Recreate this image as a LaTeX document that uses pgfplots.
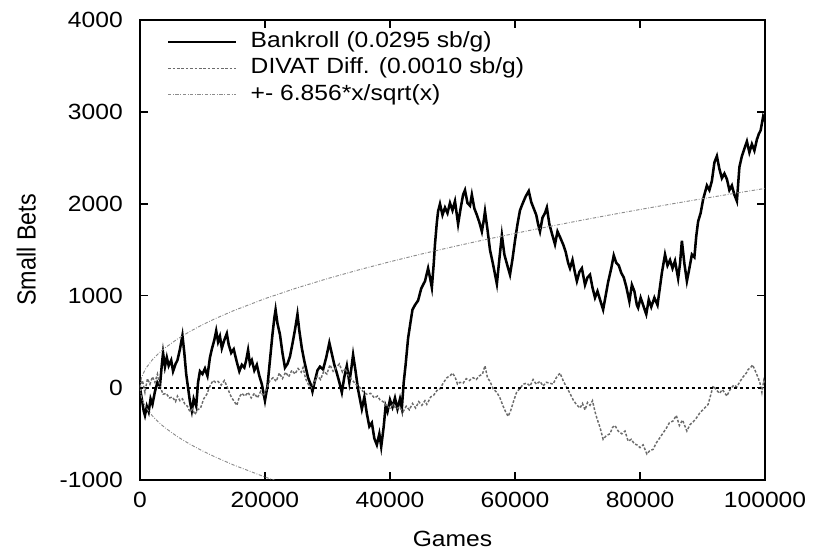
\documentclass[border=0pt]{standalone}
\usepackage{fontspec}
\setmainfont{Liberation Sans}
\usepackage{graphicx}
\usepackage{pgfplots}
\pgfplotsset{compat=1.18}

\pgfplotstableread{
x y
0 0
300 -120
600 -250
800 -300
1100 -200
1400 -260
1700 -120
2000 -180
2400 -40
2800 60
3200 20
3500 250
3700 380
4000 230
4300 330
4600 240
5000 300
5300 180
5700 260
6000 300
6400 420
6800 570
7100 380
7400 150
7700 0
8000 -150
8300 -250
8600 -120
9000 -200
9300 60
9600 180
10000 150
10400 210
10800 130
11200 330
11500 420
11900 520
12200 620
12500 500
12800 560
13100 430
13500 520
13900 590
14200 470
14600 380
15000 420
15500 280
15900 180
16300 250
16700 220
17000 300
17300 410
17600 260
17900 300
18300 190
18700 250
19100 130
19500 40
20000 -140
20400 20
20800 300
21200 580
21500 760
21700 850
22000 700
22400 580
22800 380
23200 220
23600 260
24000 340
24400 480
24800 630
25200 800
25500 620
25900 430
26300 290
26900 110
27300 40
27600 -40
28000 80
28400 190
28800 230
29300 200
29800 330
30300 490
30700 370
31100 250
31500 160
31900 60
32300 -50
32700 120
33100 240
33500 60
33800 200
34100 360
34500 180
34900 -20
35500 -230
35900 -100
36300 -280
36700 -420
37100 -380
37500 -550
37900 -620
38300 -500
38600 -640
39000 -420
39300 -200
39600 -260
40000 -130
40400 -210
40800 -110
41200 -230
41600 -120
41900 -220
42200 60
42500 250
42900 540
43300 720
43600 850
44000 900
44500 950
45000 1080
45600 1160
46100 1300
46400 1200
46700 1090
47000 1350
47200 1560
47500 1800
47700 1920
48000 2000
48400 1880
48800 1960
49200 1900
49600 2010
50000 1930
50400 2030
50900 1780
51300 1950
51700 2100
52000 2150
52400 2010
52800 1980
53100 2100
53500 1950
53900 1880
54300 1800
54700 1700
55000 1820
55200 1920
55600 1720
56000 1500
56500 1340
57100 1130
57500 1400
57900 1660
58300 1450
58700 1350
59200 1230
59600 1400
60000 1600
60400 1780
60800 1930
61200 2000
61700 2080
62200 2140
62600 2020
63000 1950
63400 1880
63700 1780
64000 1700
64400 1850
64800 1900
65100 1960
65500 1780
65900 1680
66400 1560
66800 1700
67200 1640
67700 1560
68100 1480
68500 1360
68800 1300
69200 1390
69600 1250
69900 1160
70300 1260
70700 1300
71200 1120
71600 1200
72000 1230
72400 1090
72800 980
73200 1050
73600 960
74100 850
74500 1000
74900 1150
75400 1300
75800 1440
76200 1360
76600 1330
77000 1250
77400 1200
77800 1100
78300 940
78700 1120
79100 1050
79500 900
79700 870
80100 980
80500 900
81000 800
81400 960
81800 880
82300 980
82800 900
83100 1050
83500 1250
84000 1450
84400 1330
84800 1390
85200 1300
85600 1380
86100 1190
86400 1350
86700 1600
87100 1350
87500 1160
87900 1300
88300 1450
88700 1420
89000 1650
89300 1810
89700 1900
90100 2050
90500 2150
90700 2200
91100 2150
91500 2250
91900 2450
92300 2520
92700 2380
93100 2280
93500 2330
93900 2270
94300 2150
94700 2200
95100 2100
95500 2030
95900 2400
96300 2520
96700 2600
97100 2680
97500 2560
97900 2650
98300 2580
98700 2700
99000 2760
99300 2800
99700 2950
100000 2900
}\bankroll

\pgfplotstableread{
x y
0 0
400 80
800 -50
1200 100
1600 40
2000 120
2400 60
2800 150
3200 20
3700 -70
4200 -60
4700 -110
5200 -100
5700 -150
6000 -90
6400 -140
6800 -120
7200 -180
7600 -200
8000 -260
8400 -230
8800 -290
9200 -240
9700 -220
10200 -120
10700 -70
11200 20
11700 80
12100 60
12500 70
13000 30
13500 80
13900 20
14400 -70
14800 -120
15200 -160
15500 -190
15900 -100
16300 -60
16800 -90
17300 -50
17800 -110
18300 -60
18800 -110
19300 -40
19800 -90
20300 0
20800 80
21300 110
21800 70
22300 160
22800 100
23300 170
23800 120
24300 190
24800 150
25300 210
25800 170
26100 220
26500 100
27000 30
27400 0
27900 60
28400 130
28900 90
29400 180
29900 150
30400 250
30900 180
31400 220
31900 260
32400 170
32900 210
33400 120
33900 90
34500 40
35100 10
35700 -40
36300 -70
36900 -60
37500 -110
38000 -90
38400 -130
38900 -150
39400 -190
40000 -220
40500 -180
41000 -230
41500 -210
42100 -260
42600 -200
43100 -240
43600 -170
44100 -220
44600 -150
45100 -190
45600 -140
45900 -180
46500 -100
47000 -80
47500 -30
48000 -10
48500 50
49100 110
49600 130
50000 160
50400 120
50800 40
51200 60
51700 50
52200 100
52700 80
53300 110
53800 90
54300 130
54800 150
55200 240
55600 110
56000 70
56500 -10
57100 -50
57600 -110
58100 -200
58500 -260
58900 -310
59300 -250
59800 -140
60300 -40
60800 -10
61300 40
61900 50
62400 20
62900 90
63400 40
64000 70
64500 20
65000 60
65600 50
66100 40
66600 110
67200 160
67700 80
68300 0
68800 -60
69300 -130
69800 -180
70400 -220
70800 -170
71200 -240
71600 -160
72000 -190
72400 -140
72800 -260
73100 -330
73600 -430
74100 -560
74600 -520
75200 -500
75600 -430
76000 -410
76500 -470
77100 -500
77600 -470
78100 -580
78600 -560
79100 -610
79500 -620
80000 -650
80500 -620
81100 -720
81600 -680
82100 -670
82600 -600
83200 -540
83700 -490
84200 -440
84700 -380
85300 -360
85800 -300
86300 -410
86800 -350
87500 -470
88000 -400
88500 -370
89000 -330
89600 -270
90200 -230
90900 -180
91300 -80
91700 20
92200 -20
92700 -60
93200 -20
93900 -90
94400 -20
95000 30
95500 10
96000 70
96500 120
97000 160
97300 200
97700 220
98000 250
98400 190
98900 110
99200 50
99500 -50
99800 80
100000 40
}\divat

\pgfplotstableread{
x up lo
0 0 0
250 108.4 -108.4
500 153.3 -153.3
1000 216.8 -216.8
2000 306.6 -306.6
3000 375.5 -375.5
4000 433.6 -433.6
6000 531.1 -531.1
8000 613.2 -613.2
10000 685.6 -685.6
12000 751.0 -751.0
15000 839.7 -839.7
20000 969.6 -969.6
25000 1084.0 -1084.0
30000 1187.5 -1187.5
35000 1282.6 -1282.6
40000 1371.2 -1371.2
45000 1454.4 -1454.4
50000 1533.0 -1533.0
55000 1607.9 -1607.9
60000 1679.4 -1679.4
65000 1747.9 -1747.9
70000 1813.9 -1813.9
75000 1877.6 -1877.6
80000 1939.2 -1939.2
85000 1998.8 -1998.8
90000 2056.8 -2056.8
95000 2113.2 -2113.2
100000 2168.1 -2168.1
}\bound

\newcommand{\wide}[1]{\scalebox{1.12}[1]{#1}}

\begin{document}
\begin{tikzpicture}
\begin{axis}[
    name=ax,
    width=469pt, height=345pt,
    scale only axis,
    xmin=0, xmax=100000,
    ymin=-1000, ymax=4000,
    xtick={0,20000,40000,60000,80000,100000},
    xticklabels={0,20000,40000,60000,80000,100000},
    ytick={-1000,0,1000,2000,3000,4000},
    yticklabels={-1000,0,1000,2000,3000,4000},
    scaled x ticks=false,
    tick align=inside,
    major tick length=6pt,
    tick style={black, line width=0.9pt},
    axis line style={line width=1.2pt},
    ticklabel style={font=\fontsize{16.5}{18}\selectfont, xscale=1.12},
    xticklabel style={yshift=-6pt},
    yticklabel style={xshift=-8pt},
    xlabel={Games},
    ylabel={\fontsize{17.5}{20}\selectfont\scalebox{1}[1.12]{Small Bets}},
    xlabel style={font=\fontsize{16.5}{18}\selectfont, xscale=1.12,
        at={(axis description cs:0.5,-0.129)}, anchor=center},
    ylabel style={at={(axis description cs:-0.182,0.5)}, anchor=center},
    legend style={draw=none, fill=none, inner sep=0pt,
        at={(axis description cs:0.0427,0.976)}, anchor=north west,
        font=\fontsize{16.5}{18}\selectfont, row sep=3.8pt, column sep=10pt,
        nodes={inner sep=0pt, text height=12pt, text depth=4pt}},
    legend cell align=left,
    legend image code/.code={\draw[#1] (0pt,0pt) -- (51pt,0pt);},
]
\addplot[black, line width=1.9pt] table[x=x, y=y] {\bankroll};
\addlegendentry{\wide{Bankroll (0.0295 sb/g)}}
\addplot[black!58, line width=1.1pt, dash pattern=on 2pt off 1.3pt] table[x=x, y=y] {\divat};
\addlegendentry{\wide{DIVAT Diff. (0.0010 sb/g)}}
\addplot[black!45, line width=0.7pt, dash pattern=on 2.5pt off 1.2pt on 0.6pt off 1.2pt] table[x=x, y=up] {\bound};
\addlegendentry{\wide{+- 6.856*x/sqrt(x)}}
\addplot[black!45, line width=0.7pt, dash pattern=on 2.5pt off 1.2pt on 0.6pt off 1.2pt, forget plot] table[x=x, y=lo] {\bound};
\addplot[black, line width=1.1pt, dash pattern=on 2.5pt off 2pt, forget plot] coordinates {(0,0) (100000,0)};
\end{axis}
\path ([shift={(-105pt,-60pt)}]ax.south west) rectangle ([shift={(36pt,15pt)}]ax.north east);
\end{tikzpicture}
\end{document}
